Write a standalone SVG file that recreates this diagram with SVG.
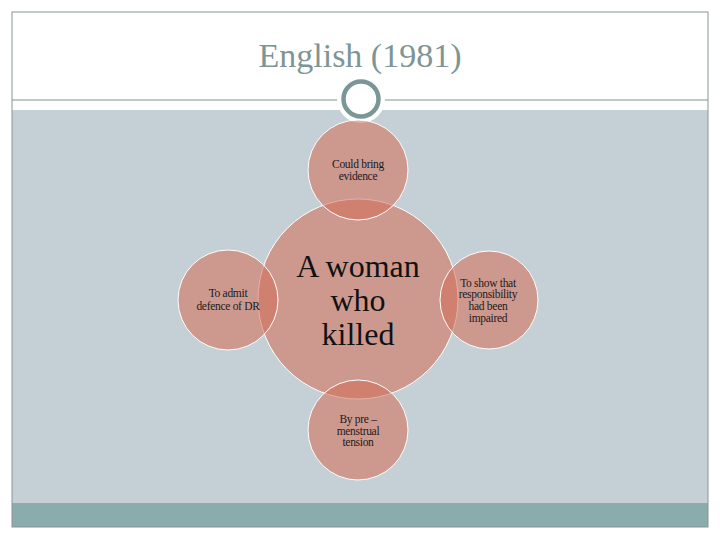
<svg xmlns="http://www.w3.org/2000/svg" width="720" height="540" viewBox="0 0 720 540">
<style>
.node{fill:#d46c55;fill-opacity:0.55;stroke:#ffffff;stroke-width:1}
.sm{font-size:11.5px;fill:#1a1a1a;text-anchor:middle;letter-spacing:-0.3px}
.big{font-size:32px;fill:#111111;text-anchor:middle}
</style>
<rect x="0" y="0" width="720" height="540" fill="#ffffff"/>
<rect x="12" y="110" width="696" height="393" fill="#c5d0d6"/>
<rect x="12" y="503" width="696" height="24" fill="#8aacac"/>
<rect x="12" y="12" width="696" height="515" fill="none" stroke="#8a9494" stroke-width="1"/>
<line x1="12" y1="100" x2="708" y2="100" stroke="#7f9393" stroke-width="1"/>
<circle cx="361" cy="99" r="24" fill="#ffffff"/>
<circle cx="361" cy="99" r="17.5" fill="#ffffff" stroke="#7a9696" stroke-width="4.5"/>
<text x="360" y="67" font-family="Liberation Serif, DejaVu Serif, serif" font-size="34" fill="#7d9595" text-anchor="middle">English (1981)</text>
<g id="connectors"></g>
<g font-family="Liberation Serif, DejaVu Serif, serif">
<g id="center">
<circle class="node" cx="358" cy="299" r="100"/>
</g>
<g id="top">
<circle class="node" cx="358" cy="170" r="50"/>
<text class="sm" x="358" y="168">Could bring</text>
<text class="sm" x="358" y="180">evidence</text>
</g>
<g id="left">
<circle class="node" cx="228" cy="300" r="50"/>
<text class="sm" x="228" y="297">To admit</text>
<text class="sm" x="228" y="310">defence of DR</text>
</g>
<g id="right">
<circle class="node" cx="489" cy="300" r="49"/>
<text class="sm" x="488" y="287">To show that</text>
<text class="sm" x="488" y="298">responsibility</text>
<text class="sm" x="488" y="310">had been</text>
<text class="sm" x="488" y="322">impaired</text>
</g>
<g id="bottom">
<circle class="node" cx="358" cy="430" r="50"/>
<text class="sm" x="358" y="423">By pre –</text>
<text class="sm" x="358" y="435">menstrual</text>
<text class="sm" x="358" y="446">tension</text>
</g>
<g id="center-label">
<text class="big" x="358" y="277">A woman</text>
<text class="big" x="358" y="311">who</text>
<text class="big" x="358" y="345">killed</text>
</g>
</g>
</svg>
